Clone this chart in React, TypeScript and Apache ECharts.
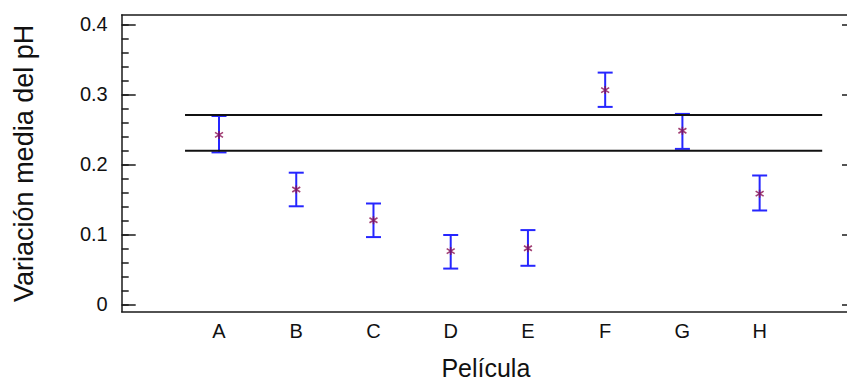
import React, { useEffect, useRef } from "react";
import * as echarts from "echarts";

const categories = ["A", "B", "C", "D", "E", "F", "G", "H"];
const means = [0.242, 0.164, 0.120, 0.076, 0.080, 0.306, 0.248, 0.158];
const lowerLimits = [0.217, 0.140, 0.096, 0.051, 0.055, 0.282, 0.222, 0.134];
const upperLimits = [0.269, 0.188, 0.144, 0.099, 0.106, 0.331, 0.272, 0.184];
const decisionLimits = [0.2195, 0.2705];
const decisionSpan = [-0.44, 7.81];
const yTickLabels = [0, 0.1, 0.2, 0.3, 0.4];
const yMinorTicks = [0, 0.02, 0.04, 0.06, 0.08, 0.1, 0.12, 0.14, 0.16, 0.18, 0.2, 0.22, 0.24, 0.26, 0.28, 0.3, 0.32, 0.34, 0.36, 0.38, 0.4];
const yRange = [-0.0106, 0.4133];
const xRange = [-1.26, 8.17];

const FONT = "'Liberation Sans', Arial, sans-serif";
const AXIS_COLOR = "#1a1a1a";

export default function App() {
  const ref = useRef<HTMLDivElement>(null);
  useEffect(() => {
    document.body.style.margin = "0";
    const chart = echarts.init(ref.current!, null, { renderer: "svg" });
    const catIdx = categories.map((_, i) => i);
    const errData = categories.map((_, i) => [i, lowerLimits[i], upperLimits[i]]);
    const meanData = categories.map((_, i) => [i, means[i]]);
    const line = { show: true, onZero: false, lineStyle: { color: AXIS_COLOR, width: 1.5 } };
    const option: any = {
      animation: false,
      backgroundColor: "#ffffff",
      grid: {
        left: 121.7,
        top: 15,
        right: -3,
        bottom: 71.3,
        containLabel: false,
        outerBoundsMode: "none",
      },
      xAxis: [
        {
          type: "value",
          position: "bottom",
          min: xRange[0],
          max: xRange[1],
          splitLine: { show: false },
          axisLine: line,
          axisTick: { show: false },
          axisLabel: {
            customValues: catIdx,
            formatter: (v: number) => categories[Math.round(v)] ?? "",
            color: "#111",
            fontFamily: FONT,
            fontSize: 20,
            margin: 9,
          },
          name: "Película",
          nameLocation: "middle",
          nameGap: 45,
          nameTextStyle: { color: "#111", fontFamily: FONT, fontSize: 25, lineHeight: 22 },
        },
        {
          type: "value",
          position: "top",
          min: xRange[0],
          max: xRange[1],
          splitLine: { show: false },
          axisLine: line,
          axisTick: { show: false },
          axisLabel: { show: false },
        },
      ],
      yAxis: [
        {
          type: "value",
          position: "left",
          min: yRange[0],
          max: yRange[1],
          splitLine: { show: false },
          axisLine: line,
          axisTick: {
            show: true,
            inside: true,
            length: 14,
            customValues: yTickLabels,
            lineStyle: { color: AXIS_COLOR, width: 1.5 },
          },
          axisLabel: {
            customValues: yTickLabels,
            formatter: (v: number) => String(Math.round(v * 10) / 10),
            color: "#111",
            fontFamily: FONT,
            fontSize: 20,
            margin: 14,
          },
          name: "Variación media del pH",
          nameLocation: "middle",
          nameGap: 84,
          nameTextStyle: { color: "#111", fontFamily: FONT, fontSize: 27 },
        },
        {
          type: "value",
          position: "left",
          min: yRange[0],
          max: yRange[1],
          splitLine: { show: false },
          axisLine: { show: false, onZero: false },
          axisTick: {
            show: true,
            inside: true,
            length: 7,
            customValues: yMinorTicks,
            lineStyle: { color: AXIS_COLOR, width: 1.5 },
          },
          axisLabel: { show: false },
        },
        {
          type: "value",
          position: "right",
          min: yRange[0],
          max: yRange[1],
          splitLine: { show: false },
          axisLine: line,
          axisTick: {
            show: true,
            inside: true,
            length: 8,
            customValues: yTickLabels,
            lineStyle: { color: AXIS_COLOR, width: 1.5 },
          },
          axisLabel: { show: false },
        },
      ],
      series: [
        {
          type: "line",
          xAxisIndex: 0,
          yAxisIndex: 0,
          data: [
            [decisionSpan[0], decisionLimits[1]],
            [decisionSpan[1], decisionLimits[1]],
          ],
          symbol: "none",
          lineStyle: { color: "#111", width: 2 },
          silent: true,
        },
        {
          type: "line",
          xAxisIndex: 0,
          yAxisIndex: 0,
          data: [
            [decisionSpan[0], decisionLimits[0]],
            [decisionSpan[1], decisionLimits[0]],
          ],
          symbol: "none",
          lineStyle: { color: "#111", width: 2 },
          silent: true,
        },
        {
          type: "custom",
          xAxisIndex: 0,
          yAxisIndex: 0,
          data: errData,
          renderItem: (params: any, api: any) => {
            const x = api.value(0);
            const lo = api.coord([x, api.value(1)]);
            const hi = api.coord([x, api.value(2)]);
            const half = 7.5;
            const style = { stroke: "#2626ff", lineWidth: 2 };
            return {
              type: "group",
              children: [
                { type: "line", shape: { x1: lo[0], y1: lo[1], x2: hi[0], y2: hi[1] }, style },
                { type: "line", shape: { x1: hi[0] - half, y1: hi[1], x2: hi[0] + half, y2: hi[1] }, style },
                { type: "line", shape: { x1: lo[0] - half, y1: lo[1], x2: lo[0] + half, y2: lo[1] }, style },
              ],
            };
          },
          z: 3,
        },
        {
          type: "scatter",
          xAxisIndex: 0,
          yAxisIndex: 0,
          data: meanData,
          symbol: "path://M0,-4L0,4M-4,-2.5L4,2.5M-4,2.5L4,-2.5",
          symbolSize: 8,
          itemStyle: { color: "#8a1050", borderColor: "#8a1050", borderWidth: 1.6 },
          z: 4,
        },
      ],
    };
    chart.setOption(option);
    return () => chart.dispose();
  }, []);
  return <div ref={ref} style={{ width: 847, height: 383 }} />;
}
